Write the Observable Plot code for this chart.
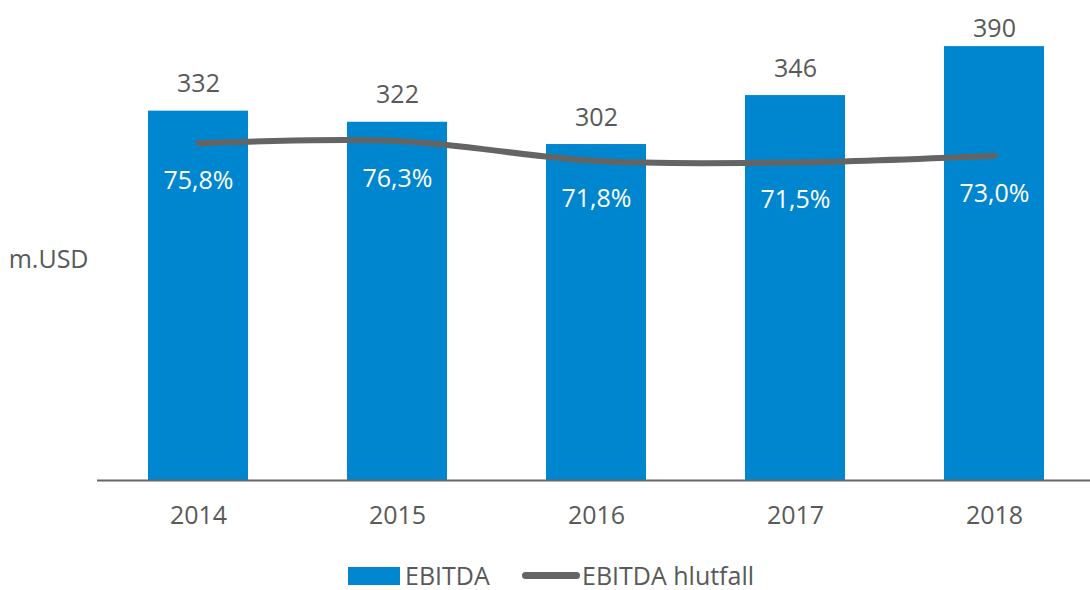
<!DOCTYPE html>
<html><head><meta charset="utf-8">
<script src="https://cdn.jsdelivr.net/npm/d3@7"></script>
<script src="https://cdn.jsdelivr.net/npm/@observablehq/plot@0.6"></script>
<style>
body{margin:0;background:#fff;font-family:"Open Sans",sans-serif;}
#chart svg{display:block;}
#legend{position:relative;width:1090px;height:40px;font-family:"Open Sans",sans-serif;font-size:25px;color:#595959;}
#legend .sw{position:absolute;}
#legend .lbl{position:absolute;line-height:25px;top:13px;}
</style></head><body>
<div id="chart"></div>
<div id="legend"></div>
<script>
const years = ["2014", "2015", "2016", "2017", "2018"];
const ebitda = [332, 322, 302, 346, 390];
const ratio = [75.8, 76.3, 71.8, 71.5, 73.0];
const ratioLabels = ["75,8%", "76,3%", "71,8%", "71,5%", "73,0%"];
const unitLabel = "m.USD";
const seriesNames = ["EBITDA", "EBITDA hlutfall"];

const barColor = "#0086CF";
const lineColor = "#646464";
const textColor = "#595959";
// value labels are kept inside the plot area (as the spreadsheet does)
const labelCeiling = 382;

// secondary axis 0–100% maps onto primary 0–400
const rows = years.map((y, i) => ({year: y, value: ebitda[i], pct: ratio[i], pctScaled: ratio[i] * 4, label: ratioLabels[i]}));

const chart = Plot.plot({
  width: 1090,
  height: 550,
  marginTop: 35,
  marginBottom: 70,
  marginLeft: 97,
  marginRight: 0,
  style: {fontFamily: "'Open Sans', sans-serif", color: textColor, background: "#fff"},
  x: {domain: years, range: [97.25, 1094.75], paddingInner: 0.5, paddingOuter: 0.25, label: null},
  y: {domain: [0, 400], axis: null},
  marks: [
    Plot.barY(rows, {x: "year", y: "value", fill: barColor}),
    Plot.ruleY([0], {stroke: "#666666", strokeWidth: 2}),
    Plot.axisX({tickSize: 0, tickPadding: 26, fontSize: 25, fill: textColor, label: null}),
    Plot.line(rows, {x: "year", y: "pctScaled", stroke: lineColor, strokeWidth: 6, curve: "catmull-rom", strokeLinecap: "round", strokeLinejoin: "round"}),
    Plot.text(rows, {x: "year", y: d => Math.min(d.value, labelCeiling), text: d => String(d.value), dy: -27, fontSize: 25, fill: textColor}),
    Plot.text(rows, {x: "year", y: "pctScaled", text: "label", dy: 38, fontSize: 25, fill: "#ffffff"}),
    Plot.text([unitLabel], {frameAnchor: "left", text: d => d, textAnchor: "end", dx: -9, dy: 2, fontSize: 25, fill: textColor})
  ]
});
document.getElementById("chart").appendChild(chart);

const legend = document.getElementById("legend");
legend.innerHTML = `
  <div class="sw" style="left:348px;top:17px;width:52px;height:18px;background:${barColor}"></div>
  <div class="lbl" style="left:405px">${seriesNames[0]}</div>
  <div class="sw" style="left:522px;top:22px;width:58px;height:7px;border-radius:4px;background:${lineColor}"></div>
  <div class="lbl" style="left:582px">${seriesNames[1]}</div>
`;
</script>
</body></html>
